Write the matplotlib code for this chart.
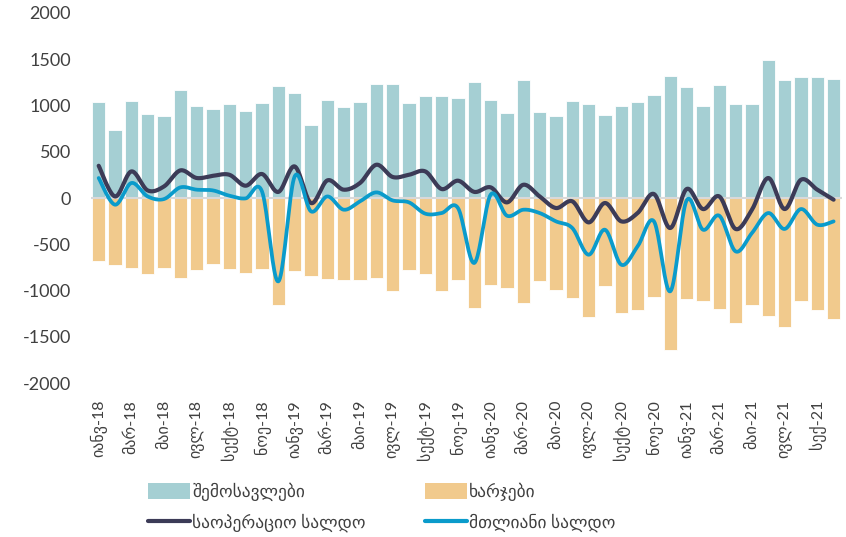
import matplotlib
matplotlib.use("Agg")
import matplotlib.pyplot as plt
import numpy as np
from matplotlib.patches import Patch
from matplotlib.lines import Line2D

# ---- data ----
tick_labels = ["იანვ-18", "მარ-18", "მაი-18", "ივლ-18", "სექტ-18", "ნოე-18",
               "იანვ-19", "მარ-19", "მაი-19", "ივლ-19", "სექტ-19", "ნოე-19",
               "იანვ-20", "მარ-20", "მაი-20", "ივლ-20", "სექტ-20", "ნოე-20",
               "იანვ-21", "მარ-21", "მაი-21", "ივლ-21", "სექ-21"]

income = [1034, 738, 1052, 911, 886, 1163, 998, 958, 1019, 944, 1023, 1210,
          1135, 792, 1063, 980, 1034, 1228, 1228, 1027, 1106, 1102, 1084, 1254,
          1063, 922, 1279, 933, 890, 1048, 1016, 900, 998, 1041, 1109, 1315,
          1196, 990, 1218, 1016, 1012, 1491, 1279, 1308, 1311, 1290]
expenses = [-685, -718, -757, -822, -757, -862, -782, -710, -768, -811, -761, -1154,
            -793, -847, -869, -890, -890, -862, -1006, -779, -815, -1002, -883, -1190,
            -941, -966, -1128, -894, -991, -1078, -1280, -945, -1244, -1211, -1064, -1644,
            -1092, -1110, -1197, -1345, -1150, -1269, -1391, -1114, -1208, -1301]
operating = [348, 17, 287, 82, 125, 298, 216, 240, 251, 133, 259, 66,
             341, -54, 190, 90, 162, 359, 227, 251, 287, 97, 187, 66,
             115, -47, 143, 17, -108, -36, -263, -54, -252, -162, 43, -324,
             97, -119, 17, -334, -126, 216, -119, 197, 90, -18]
total = [216, -72, 162, 17, -11, 115, 90, 82, 25, -4, 71, -900,
         233, -144, 17, -126, -36, 61, -26, -47, -169, -162, -108, -701,
         36, -191, -126, -162, -252, -324, -612, -342, -720, -522, -252, -1007,
         -26, -342, -191, -576, -378, -162, -334, -119, -288, -252]

names = ["შემოსავლები", "ხარჯები", "საოპერაციო სალდო", "მთლიანი სალდო"]

C_INC = "#A5CFD3"
C_EXP = "#F1CA8D"
C_OP = "#3C3B57"
C_TOT = "#0A9BCB"

FONT = ["Lato", "DejaVu Sans"]
plt.rcParams["font.family"] = FONT


def smooth(xs, ys, n=20):
    xs = np.asarray(xs, float)
    ys = np.asarray(ys, float)
    P = np.column_stack([xs, ys])
    out = [P[0]]
    m = len(P)
    for i in range(m - 1):
        p0 = P[i - 1] if i > 0 else P[i]
        p1 = P[i]
        p2 = P[i + 1]
        p3 = P[i + 2] if i + 2 < m else P[i + 1]
        c1 = p1 + (p2 - p0) / 6.0
        c2 = p2 - (p3 - p1) / 6.0
        t = np.linspace(0, 1, n + 1)[1:, None]
        seg = ((1 - t) ** 3) * p1 + 3 * ((1 - t) ** 2) * t * c1 + 3 * (1 - t) * t ** 2 * c2 + t ** 3 * p2
        out.extend(seg)
    out = np.array(out)
    return out[:, 0], out[:, 1]


fig = plt.figure(figsize=(8.46, 5.37), dpi=100)
ax = fig.add_axes([0.107, 0.2862, 0.888, 0.6901])

x = np.arange(len(income))
ax.bar(x, income, width=0.82, color=C_INC, edgecolor="white", linewidth=0.6, zorder=2)
ax.bar(x, expenses, width=0.82, color=C_EXP, edgecolor="white", linewidth=0.6, zorder=2)
ax.axhline(0, color="#D9D9D9", linewidth=1.5, zorder=3)

sx, sy = smooth(x, operating)
ax.plot(sx, sy, color=C_OP, linewidth=3.0, solid_capstyle="round", zorder=4)
sx, sy = smooth(x, total)
ax.plot(sx, sy, color=C_TOT, linewidth=2.7, solid_capstyle="round", zorder=5)

ax.set_xlim(-0.5, len(income) - 0.5)
ax.set_ylim(-2000, 2000)
ax.set_yticks(np.arange(-2000, 2001, 500))
ax.set_yticklabels([str(v) for v in range(-2000, 2001, 500)], fontsize=13, color="#404040")
ax.set_xticks(x[::2])
ax.set_xticklabels(tick_labels, rotation=90, fontsize=11.5, color="#404040")
ax.tick_params(axis="both", length=0)
ax.tick_params(axis="x", pad=12)
ax.tick_params(axis="y", pad=14)
for s in ax.spines.values():
    s.set_visible(False)

handles = [Patch(facecolor=C_INC, edgecolor="none"),
           Line2D([0], [0], color=C_OP, linewidth=3.0, solid_capstyle="round"),
           Patch(facecolor=C_EXP, edgecolor="none"),
           Line2D([0], [0], color=C_TOT, linewidth=3.0, solid_capstyle="round")]
labels = [names[0], names[2], names[1], names[3]]
fig.legend(handles, labels, ncol=2, loc="center left", bbox_to_anchor=(0.175, 0.055),
           frameon=False, fontsize=12.5, handlelength=2.4, handleheight=1.0,
           handletextpad=0.15, columnspacing=3.4, labelspacing=0.75,
           borderpad=0, borderaxespad=0, labelcolor="#404040")

fig.savefig("out.png", dpi=100)
